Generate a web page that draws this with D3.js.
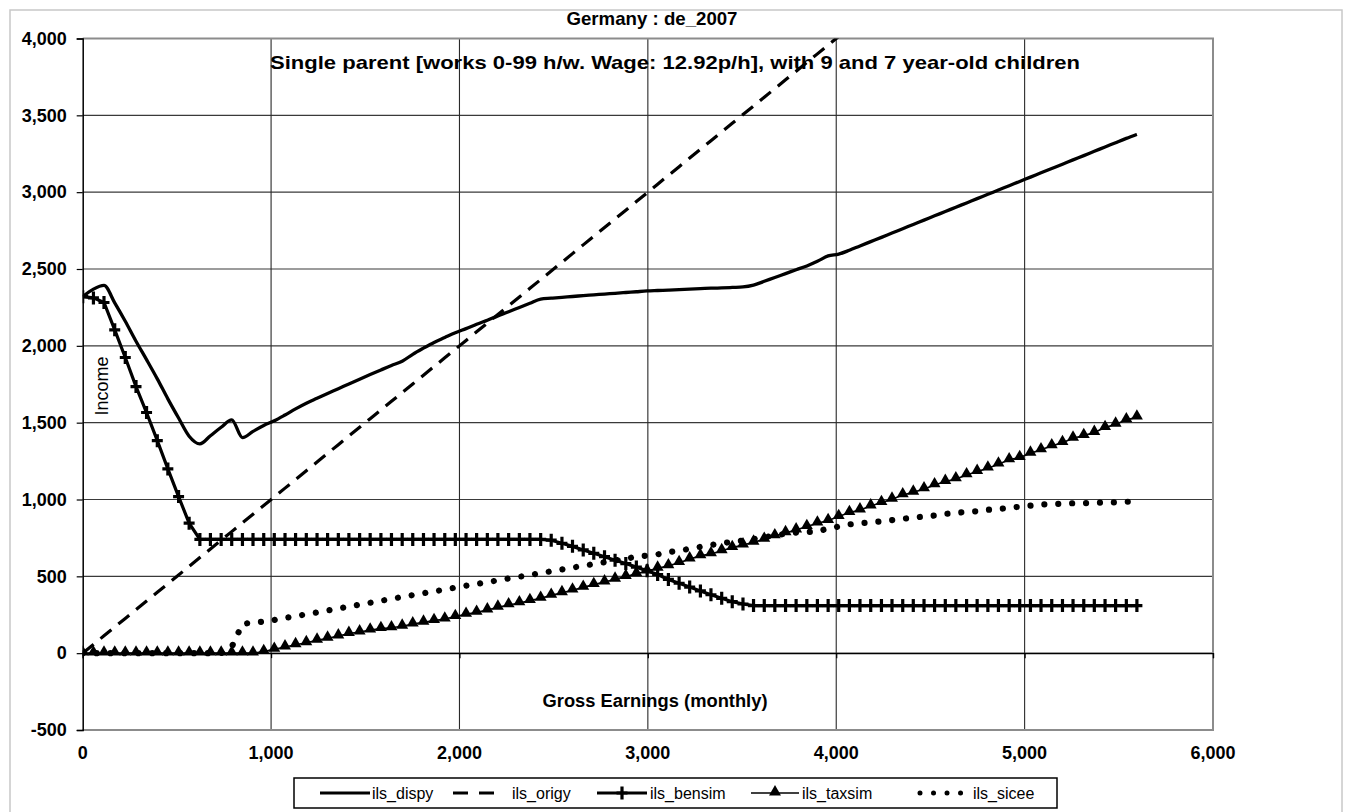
<!DOCTYPE html>
<html>
<head>
<meta charset="utf-8">
<script src="https://cdn.jsdelivr.net/npm/d3@7"></script>
<style>
  html, body { margin: 0; padding: 0; background: #fff; }
  svg { display: block; font-family: "Liberation Sans", Arial, sans-serif; }
</style>
</head>
<body>
<svg id="chart" width="1345" height="812"></svg>
<script>
// ---------- DATA ----------
const titleText = "Germany : de_2007";
const subtitleText = "Single parent [works 0-99 h/w. Wage: 12.92p/h], with 9 and 7 year-old children";
const xAxisTitle = "Gross Earnings (monthly)";
const yAxisTitle = "Income";

const xTicks = [0, 1000, 2000, 3000, 4000, 5000, 6000];
const xTickLabels = ["0", "1,000", "2,000", "3,000", "4,000", "5,000", "6,000"];
const yTicks = [-500, 0, 500, 1000, 1500, 2000, 2500, 3000, 3500, 4000];
const yTickLabels = ["-500", "0", "500", "1,000", "1,500", "2,000", "2,500", "3,000", "3,500", "4,000"];

const seriesNames = ["ils_dispy", "ils_origy", "ils_bensim", "ils_taxsim", "ils_sicee"];

// gross monthly earnings for 0..99 hours per week
const earnings = [
  0,57,113,170,226,283,339,396,452,509,
  565,622,678,735,791,848,904,961,1017,1074,
  1130,1187,1244,1300,1357,1413,1470,1526,1583,1639,
  1696,1752,1809,1865,1922,1978,2035,2091,2148,2204,
  2261,2318,2374,2431,2487,2544,2600,2657,2713,2770,
  2826,2883,2939,2996,3052,3109,3166,3222,3279,3335,
  3392,3448,3505,3561,3618,3674,3731,3787,3844,3900,
  3957,4013,4070,4126,4183,4240,4296,4353,4409,4466,
  4522,4579,4635,4692,4748,4805,4861,4918,4974,5031,
  5087,5144,5201,5257,5314,5370,5427,5483,5540,5596
];

const ils_dispy = [
  2320,2369,2393,2280,2160,2030,1910,1785,1655,1530,
  1412,1362,1415,1470,1518,1403,1443,1482,1512,1550,
  1590,1627,1659,1690,1721,1752,1783,1813,1843,1872,
  1900,1945,1985,2022,2054,2085,2112,2140,2167,2195,
  2222,2250,2277,2304,2310,2316,2321,2327,2332,2337,
  2342,2347,2352,2357,2360,2363,2366,2369,2372,2375,
  2377,2380,2383,2395,2420,2445,2470,2495,2520,2550,
  2585,2597,2622,2650,2678,2706,2734,2762,2790,2818,
  2846,2874,2902,2930,2958,2986,3014,3042,3070,3098,
  3126,3154,3182,3210,3238,3266,3294,3322,3350,3376
];

const ils_origy = [
  0,57,113,170,226,283,339,396,452,509,
  565,622,678,735,791,848,904,961,1017,1074,
  1130,1187,1244,1300,1357,1413,1470,1526,1583,1639,
  1696,1752,1809,1865,1922,1978,2035,2091,2148,2204,
  2261,2318,2374,2431,2487,2544,2600,2657,2713,2770,
  2826,2883,2939,2996,3052,3109,3166,3222,3279,3335,
  3392,3448,3505,3561,3618,3674,3731,3787,3844,3900,
  3957,4013,4070,4126,4183,4240,4296,4353,4409,4466,
  4522,4579,4635,4692,4748,4805,4861,4918,4974,5031,
  5087,5144,5201,5257,5314,5370,5427,5483,5540,5596
];

const ils_bensim = [
  2320,2312,2282,2104,1924,1735,1566,1383,1199,1019,
  846,740,740,740,740,740,740,740,740,740,
  740,740,740,740,740,740,740,740,740,740,
  740,740,740,740,740,740,740,740,740,740,
  740,740,740,740,735,715,695,672,650,628,
  605,583,560,537,512,480,455,430,405,380,
  357,335,320,310,310,310,310,310,310,310,
  310,310,310,310,310,310,310,310,310,310,
  310,310,310,310,310,310,310,310,310,310,
  310,310,310,310,310,310,310,310,310,310
];

const ils_taxsim = [
  0,0,0,0,0,0,0,0,0,0,
  0,0,0,0,0,0,0,10,25,40,
  55,68,84,97,112,128,138,150,160,165,
  175,190,201,212,222,238,253,266,281,299,
  314,327,342,357,376,393,410,428,446,463,
  481,499,517,535,553,568,589,613,633,646,
  667,687,704,722,741,763,784,802,824,846,
  863,889,915,932,958,980,1002,1030,1047,1069,
  1095,1117,1134,1160,1182,1204,1230,1258,1273,1301,
  1323,1349,1370,1399,1416,1436,1468,1490,1518,1536
];

const ils_sicee = [
  0,0,0,0,0,0,0,0,0,0,
  0,0,0,0,40,190,200,205,216,229,
  241,253,265,278,291,303,316,328,341,353,
  366,378,390,402,414,427,439,450,462,474,
  486,497,509,520,533,545,557,568,580,592,
  604,615,627,635,643,658,667,679,692,704,
  716,724,733,743,754,767,777,785,788,791,
  812,824,838,846,850,858,866,874,882,889,
  896,906,913,919,924,933,938,946,953,960,
  968,970,972,976,976,978,980,982,985,987
];

// ---------- DRAW ----------
const svg = d3.select("#chart");
const plot = { left: 82.7, right: 1213, top: 38.5, bottom: 730 };

const x = d3.scaleLinear().domain([0, 6000]).range([plot.left, plot.right]);
const y = d3.scaleLinear().domain([-500, 4000]).range([plot.bottom, plot.top]);

// outer frame
svg.append("rect").attr("x", 10).attr("y", 10).attr("width", 1332).attr("height", 812)
  .attr("fill", "#fff").attr("stroke", "#c8c8c8").attr("stroke-width", 1.5);

// gridlines
const grid = svg.append("g");
grid.selectAll("line.h").data(yTicks).join("line")
  .attr("x1", plot.left).attr("x2", plot.right)
  .attr("y1", d => y(d)).attr("y2", d => y(d))
  .attr("stroke", "#3a3a3a").attr("stroke-width", 1.1);
grid.selectAll("line.v").data(xTicks.filter(d => d > 0 && d < 6000)).join("line")
  .attr("x1", d => x(d)).attr("x2", d => x(d))
  .attr("y1", plot.top).attr("y2", plot.bottom)
  .attr("stroke", "#2a2a2a").attr("stroke-width", 1.1);

// plot border (gray) top/right/bottom
svg.append("path")
  .attr("d", `M${plot.left},${plot.top}H${plot.right}V${plot.bottom}H${plot.left}`)
  .attr("fill", "none").attr("stroke", "#8c8c8c").attr("stroke-width", 2);

// y axis
const yAxis = d3.axisLeft(y).tickValues(yTicks).tickSize(6).tickPadding(10)
  .tickFormat((d, i) => yTickLabels[i]);
const gy = svg.append("g").attr("transform", `translate(${plot.left},0)`).call(yAxis);
gy.select(".domain").attr("stroke", "#000").attr("stroke-width", 1.5);
gy.selectAll(".tick line").attr("stroke", "#000").attr("stroke-width", 1.2);
gy.selectAll(".tick text").attr("font-size", 18).attr("font-weight", "bold")
  .attr("fill", "#000").attr("font-family", "Liberation Sans, Arial, sans-serif");

// x axis line at y=0
const xAxis = d3.axisBottom(x).tickValues(xTicks).tickSize(5).tickFormat("");
const gx = svg.append("g").attr("transform", `translate(0,${y(0)})`).call(xAxis);
gx.select(".domain").attr("stroke", "#000").attr("stroke-width", 1.2);
gx.selectAll(".tick line").attr("stroke", "#000").attr("stroke-width", 1.2);

// x tick labels at bottom
svg.append("g").selectAll("text").data(xTicks).join("text")
  .attr("x", d => x(d)).attr("y", 759)
  .attr("text-anchor", "middle")
  .attr("font-size", 18).attr("font-weight", "bold")
  .text((d, i) => xTickLabels[i]);

// clip
svg.append("clipPath").attr("id", "clip").append("rect")
  .attr("x", plot.left).attr("y", plot.top)
  .attr("width", plot.right - plot.left).attr("height", plot.bottom - plot.top);

const layer = svg.append("g").attr("clip-path", "url(#clip)");
const pts = arr => arr.map((v, i) => [earnings[i], v]);
const line = d3.line().x(d => x(d[0])).y(d => y(d[1]));
const smooth = d3.line().x(d => x(d[0])).y(d => y(d[1])).curve(d3.curveMonotoneX);

// origy dashed
layer.append("path").attr("d", line(pts(ils_origy)))
  .attr("fill", "none").attr("stroke", "#000").attr("stroke-width", 3.2)
  .attr("stroke-dasharray", "14 9");

// sicee dotted
layer.append("path").attr("d", line(pts(ils_sicee)))
  .attr("fill", "none").attr("stroke", "#000").attr("stroke-width", 6.2)
  .attr("stroke-linecap", "round").attr("stroke-dasharray", "0.01 13.9");

// taxsim thin line + triangles
layer.append("path").attr("d", line(pts(ils_taxsim)))
  .attr("fill", "none").attr("stroke", "#000").attr("stroke-width", 1.6);
const tri = d3.symbol().type(d3.symbolTriangle).size(62);
layer.append("g").selectAll("path").data(pts(ils_taxsim)).join("path")
  .attr("d", tri).attr("transform", d => `translate(${x(d[0])},${y(d[1]) - 1})`)
  .attr("fill", "#000");

// bensim thick line + plus markers
layer.append("path").attr("d", line(pts(ils_bensim)))
  .attr("fill", "none").attr("stroke", "#000").attr("stroke-width", 3.2);
layer.append("g").selectAll("path").data(pts(ils_bensim)).join("path")
  .attr("d", d => { const cx = x(d[0]), cy = y(d[1]); return `M${cx - 5.5},${cy}H${cx + 5.5}M${cx},${cy - 6.5}V${cy + 6.5}`; })
  .attr("stroke", "#000").attr("stroke-width", 3.2).attr("fill", "none");

// dispy solid
layer.append("path").attr("d", smooth(pts(ils_dispy)))
  .attr("fill", "none").attr("stroke", "#000").attr("stroke-width", 3.3);

// titles
svg.append("text").attr("x", 652).attr("y", 25).attr("text-anchor", "middle")
  .attr("font-size", 18.5).attr("font-weight", "bold")
  .attr("textLength", 171).attr("lengthAdjust", "spacingAndGlyphs").text(titleText);
svg.append("text").attr("x", 675).attr("y", 69).attr("text-anchor", "middle")
  .attr("font-size", 19).attr("font-weight", "bold")
  .attr("textLength", 810).attr("lengthAdjust", "spacingAndGlyphs").text(subtitleText);
svg.append("text").attr("x", 655).attr("y", 707).attr("text-anchor", "middle")
  .attr("font-size", 18).attr("font-weight", "bold")
  .attr("textLength", 225).attr("lengthAdjust", "spacingAndGlyphs").text(xAxisTitle);
svg.append("text").attr("transform", "translate(108,386) rotate(-90)")
  .attr("text-anchor", "middle").attr("font-size", 18).text(yAxisTitle);

// legend
const lg = svg.append("g");
lg.append("rect").attr("x", 294).attr("y", 778).attr("width", 763).attr("height", 30)
  .attr("fill", "#fff").attr("stroke", "#000").attr("stroke-width", 1.5);
const ly = 793;
const legendItems = [
  { name: seriesNames[0], x0: 320, x1: 370, tx: 372, kind: "solid" },
  { name: seriesNames[1], x0: 453, x1: 500, tx: 512, kind: "dash" },
  { name: seriesNames[2], x0: 597, x1: 647, tx: 650, kind: "plus" },
  { name: seriesNames[3], x0: 751, x1: 799, tx: 802, kind: "tri" },
  { name: seriesNames[4], x0: 920, x1: 960, tx: 973, kind: "dot" }
];
legendItems.forEach(it => {
  if (it.kind === "solid" || it.kind === "plus") {
    lg.append("line").attr("x1", it.x0).attr("x2", it.x1).attr("y1", ly).attr("y2", ly)
      .attr("stroke", "#000").attr("stroke-width", 3.2);
  }
  if (it.kind === "plus") {
    const cx = (it.x0 + it.x1) / 2;
    lg.append("path").attr("d", `M${cx - 5.5},${ly}H${cx + 5.5}M${cx},${ly - 6.5}V${ly + 6.5}`)
      .attr("stroke", "#000").attr("stroke-width", 3.2);
  }
  if (it.kind === "dash") {
    lg.append("line").attr("x1", it.x0).attr("x2", it.x1).attr("y1", ly).attr("y2", ly)
      .attr("stroke", "#000").attr("stroke-width", 3.2).attr("stroke-dasharray", "15 11");
  }
  if (it.kind === "tri") {
    lg.append("line").attr("x1", it.x0).attr("x2", it.x1).attr("y1", ly).attr("y2", ly)
      .attr("stroke", "#000").attr("stroke-width", 1.6);
    lg.append("path").attr("d", tri).attr("transform", `translate(${(it.x0 + it.x1) / 2},${ly - 1})`)
      .attr("fill", "#000");
  }
  if (it.kind === "dot") {
    lg.append("line").attr("x1", it.x0).attr("x2", it.x1 + 1).attr("y1", ly).attr("y2", ly)
      .attr("stroke", "#000").attr("stroke-width", 5).attr("stroke-linecap", "round")
      .attr("stroke-dasharray", "0.01 13.5");
  }
  lg.append("text").attr("x", it.tx).attr("y", ly + 6).attr("font-size", 16)
    .attr("fill", "#000").text(it.name);
});
</script>
</body>
</html>
